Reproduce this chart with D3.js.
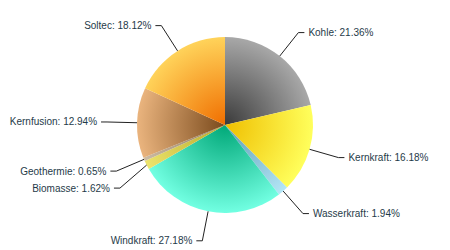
<!DOCTYPE html>
<html>
<head>
<meta charset="utf-8">
<script src="https://cdn.jsdelivr.net/npm/d3@7"></script>
<style>
  html, body { margin: 0; padding: 0; background: #fff; }
  svg { display: block; }
</style>
</head>
<body>
<svg id="chart" width="450" height="250"></svg>
<script>
const categories = ["Kohle", "Kernkraft", "Wasserkraft", "Windkraft", "Biomasse", "Geothermie", "Kernfusion", "Soltec"];
const values = [21.36, 16.18, 1.94, 27.18, 1.62, 0.65, 12.94, 18.12];
const innerColors = ["#3a3a3a", "#efbf00", "#5d9bb5", "#00a878", "#b8a828", "#8a7458", "#7a4a1c", "#f06e00"];
const outerColors = ["#a8a8a8", "#ffff5c", "#b4e6f6", "#72ffe2", "#ece46c", "#cdbca4", "#eab47e", "#ffd35a"];

const W = 450, H = 250, cx = 225, cy = 125, R = 88, D = 30;
const svg = d3.select("#chart");
const defs = svg.append("defs");

const data = categories.map((c, i) => ({ name: c, value: values[i], i }));
const pie = d3.pie().value(d => d.value).sort(null);
const arcs = pie(data);
const arc = d3.arc().innerRadius(0).outerRadius(R);

arcs.forEach((a, i) => {
  const g = defs.append("radialGradient")
    .attr("id", "grad" + i)
    .attr("gradientUnits", "userSpaceOnUse")
    .attr("cx", 0).attr("cy", 0).attr("r", R);
  g.append("stop").attr("offset", "0%").attr("stop-color", innerColors[i]);
  g.append("stop").attr("offset", "100%").attr("stop-color", outerColors[i]);
});

const root = svg.append("g").attr("transform", `translate(${cx},${cy})`);

root.selectAll("path.slice").data(arcs).enter().append("path")
  .attr("class", "slice")
  .attr("d", arc)
  .attr("fill", (d, i) => `url(#grad${i})`);

// label placement
const labels = arcs.map((a, i) => {
  const ang = (a.startAngle + a.endAngle) / 2;
  const sx = Math.sin(ang), sy = -Math.cos(ang);
  return {
    name: a.data.name, value: a.data.value, ang,
    ex: sx * R, ey: sy * R,
    x: sx * (R + D), y: sy * (R + D),
    right: sx >= 0
  };
});

// simple overlap avoidance per side
const minGap = 17;
[true, false].forEach(side => {
  const group = labels.filter(l => l.right === side).sort((a, b) => a.y - b.y);
  for (let k = 1; k < group.length; k++) {
    if (group[k].y - group[k - 1].y < minGap) group[k].y = group[k - 1].y + minGap;
  }
});

const lg = root.append("g");
labels.forEach(l => {
  const dir = l.right ? 1 : -1;
  lg.append("path")
    .attr("d", `M${l.ex},${l.ey}L${l.x},${l.y}L${l.x + dir * 6},${l.y}`)
    .attr("fill", "none")
    .attr("stroke", "#222")
    .attr("stroke-width", 1);
  lg.append("text")
    .attr("x", l.x + dir * 10)
    .attr("y", l.y)
    .attr("dy", "0.35em")
    .attr("text-anchor", l.right ? "start" : "end")
    .attr("font-family", "'Liberation Sans', Arial, sans-serif")
    .attr("font-size", "10px")
    .attr("fill", "#1f3b49")
    .text(`${l.name}: ${l.value.toFixed(2)}%`);
});
</script>
</body>
</html>
